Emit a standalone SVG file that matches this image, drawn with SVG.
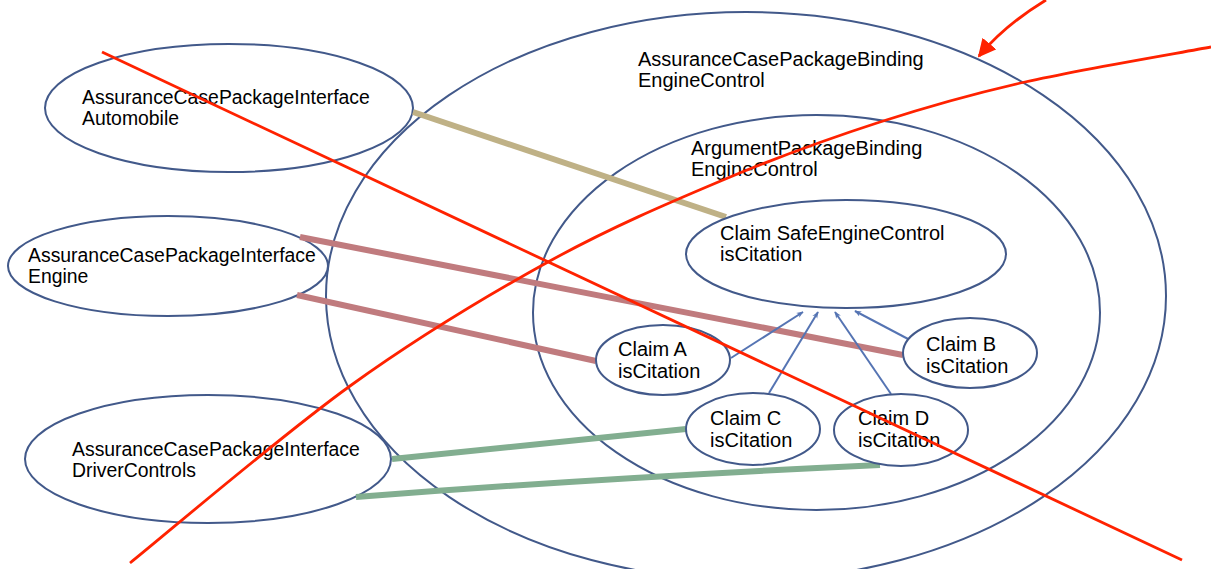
<svg xmlns="http://www.w3.org/2000/svg" width="1211" height="569" viewBox="0 0 1211 569">
<style>
.n{fill:#fff;stroke:#42598a;stroke-width:2}
.c{fill:none;stroke:#42598a;stroke-width:2}
text{font-family:"Liberation Sans",Arial,sans-serif;fill:#000}
.t1{font-size:19.4px}
.t2{font-size:20px}
.t3{font-size:20px}
.tan{stroke:#bfb186;stroke-width:6;fill:none}
.rose{stroke:#c07b7e;stroke-width:6;fill:none}
.grn{stroke:#82ae90;stroke-width:6;fill:none}
.ar{stroke:#5574b3;stroke-width:2;fill:none;marker-end:url(#ah)}
.red{stroke:#ff2200;stroke-width:2.8;fill:none}
</style>
<defs>
<marker id="ah" viewBox="0 0 10 10" refX="9" refY="5" markerWidth="7" markerHeight="7" orient="auto" markerUnits="userSpaceOnUse">
<path d="M0,1 L10,5 L0,9 L3,5 Z" fill="#5574b3"/>
</marker>
<marker id="rah" viewBox="0 0 10 10" refX="9" refY="5" markerWidth="18" markerHeight="18" orient="auto" markerUnits="userSpaceOnUse">
<path d="M0,0 L10,5 L0,10 Z" fill="#ff2200"/>
</marker>
</defs>
<rect width="1211" height="569" fill="#fff"/>
<g id="binding">
<ellipse class="c" cx="746" cy="296" rx="420" ry="284"/>
<text class="t2" x="638" y="66">AssuranceCasePackageBinding</text>
<text class="t2" x="638" y="87">EngineControl</text>
</g>
<g id="argument">
<ellipse class="c" cx="816.5" cy="312.5" rx="283.5" ry="197.5"/>
<text class="t2" x="691" y="155">ArgumentPackageBinding</text>
<text class="t2" x="691" y="176">EngineControl</text>
</g>
<g id="automobile">
<ellipse class="n" cx="229" cy="108" rx="184" ry="64"/>
<text class="t1" x="82" y="104">AssuranceCasePackageInterface</text>
<text class="t1" x="82" y="125">Automobile</text>
</g>
<g id="engine">
<ellipse class="n" cx="168" cy="266" rx="160" ry="50"/>
<text class="t1" x="28" y="262">AssuranceCasePackageInterface</text>
<text class="t1" x="28" y="283">Engine</text>
</g>
<g id="driver">
<ellipse class="n" cx="208" cy="459" rx="183" ry="64"/>
<text class="t1" x="72" y="456">AssuranceCasePackageInterface</text>
<text class="t1" x="72" y="477">DriverControls</text>
</g>
<g id="connectors">
<path class="tan" d="M413,112 L726,217"/>
<path class="rose" d="M300,237 L903,355"/>
<path class="rose" d="M297,295 L596,361"/>
<path class="grn" d="M392,459 L686,429"/>
<path class="grn" d="M356,497 Q600,478 880,465"/>
<path class="ar" d="M731,358 L803,312"/>
<path class="ar" d="M769,393 L818,312"/>
<path class="ar" d="M891,394 L835,312"/>
<path class="ar" d="M910,340 L855,311"/>
</g>
<g id="safe">
<ellipse class="n" cx="846" cy="254" rx="160" ry="54"/>
<text class="t3" x="720" y="240">Claim SafeEngineControl</text>
<text class="t3" x="720" y="261">isCitation</text>
</g>
<g id="claimA">
<ellipse class="n" cx="663" cy="360" rx="67" ry="35"/>
<text class="t3" x="618" y="356">Claim A</text>
<text class="t3" x="618" y="378">isCitation</text>
</g>
<g id="claimB">
<ellipse class="n" cx="970" cy="353" rx="67" ry="35"/>
<text class="t3" x="926" y="351">Claim B</text>
<text class="t3" x="926" y="373">isCitation</text>
</g>
<g id="claimC">
<ellipse class="n" cx="753" cy="429" rx="67" ry="36"/>
<text class="t3" x="710" y="425">Claim C</text>
<text class="t3" x="710" y="447">isCitation</text>
</g>
<g id="claimD">
<ellipse class="n" cx="901" cy="430" rx="67" ry="36"/>
<text class="t3" x="858" y="425">Claim D</text>
<text class="t3" x="858" y="447">isCitation</text>
</g>
<g id="redmarks">
<path class="red" d="M102,52 L1182,560"/>
<path class="red" d="M130,563 C166.7,533.5 280.3,436.2 350,386 C419.7,335.8 485.8,296.3 548,262 C610.2,227.7 667.7,203.3 723,180 C778.3,156.7 829.7,138.3 880,122 C930.3,105.7 969.8,94.5 1025,82 C1080.2,69.5 1180,52.8 1211,47"/>
<path class="red" d="M1046,0 Q1005,25 979,56" marker-end="url(#rah)"/>
</g>
</svg>
